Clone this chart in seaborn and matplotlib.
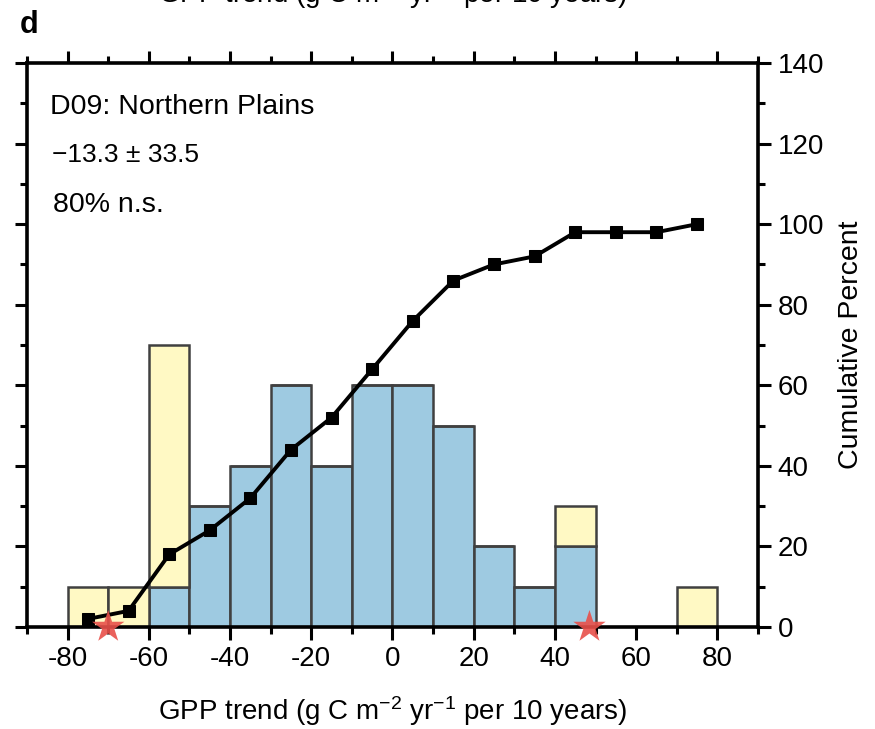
import numpy as np
import pandas as pd
import matplotlib
matplotlib.use("Agg")
import matplotlib.pyplot as plt
from matplotlib.ticker import MultipleLocator
import seaborn as sns

# ---- data ----
bin_centers = [-75, -65, -55, -45, -35, -25, -15, -5, 5, 15, 25, 35, 45, 55, 65, 75]
ns_values   = [0, 0, 10, 30, 40, 60, 40, 60, 60, 50, 20, 10, 20, 0, 0, 0]
sig_values  = [10, 10, 60, 0, 0, 0, 0, 0, 0, 0, 0, 0, 10, 0, 0, 10]
cum_percent = [2, 4, 18, 24, 32, 44, 52, 64, 76, 86, 90, 92, 98, 98, 98, 100]
star_x      = [-70, 48.5]
x_ticks     = [-80, -60, -40, -20, 0, 20, 40, 60, 80]
y_ticks     = [0, 20, 40, 60, 80, 100, 120, 140]

sns.set_theme(style="ticks")
plt.rcParams['font.family'] = ['Liberation Sans', 'DejaVu Sans']
plt.rcParams.update({"text.color": "black", "axes.labelcolor": "black",
                     "xtick.color": "black", "ytick.color": "black",
                     "xtick.labelcolor": "black", "ytick.labelcolor": "black",
                     "mathtext.fontset": "custom", "mathtext.rm": "Liberation Sans",
                     "mathtext.default": "regular"})

fig = plt.figure(figsize=(8.75, 7.29), dpi=100)
ax = fig.add_axes([27/875, 1-627/729, (758-27)/875, (627-63)/729])

df = pd.DataFrame({
    "x": bin_centers * 2,
    "w": ns_values + sig_values,
    "grp": ["n.s."] * len(bin_centers) + ["sig"] * len(bin_centers),
})
sns.histplot(data=df, x="x", weights="w", hue="grp", hue_order=["sig", "n.s."],
             binwidth=10, binrange=(-80, 80), multiple="stack",
             palette={"n.s.": "#9ECAE1", "sig": "#FFF9C4"},
             edgecolor="#404040", linewidth=1.8, alpha=1, legend=False, ax=ax)

sns.lineplot(x=bin_centers, y=cum_percent, color="black", linewidth=2.8,
             marker="s", markersize=8, markeredgecolor="black", ax=ax, zorder=5)

sns.scatterplot(x=star_x, y=[0, 0], marker="*", s=600, color="#E8504A",
                edgecolor="none", alpha=0.9, ax=ax, zorder=6, clip_on=False)

ax.set_xlim(-90, 90)
ax.set_ylim(0, 140)
ax.set_xticks(x_ticks)
ax.set_xticklabels([str(v) for v in x_ticks])
ax.set_yticks(y_ticks)
ax.xaxis.set_minor_locator(MultipleLocator(10))
ax.yaxis.set_minor_locator(MultipleLocator(10))

for s in ax.spines.values():
    s.set_linewidth(2.6)
    s.set_color("black")

ax.tick_params(which="both", direction="out", top=True, bottom=True, left=True, right=True,
               labelleft=False, labelright=True, labeltop=False, labelbottom=True,
               width=2.2, color="black", labelsize=20)
ax.tick_params(which="major", length=9, pad=5)
ax.tick_params(which="minor", length=5)

xlabel_txt = "GPP trend (g C m$^{\\mathrm{-2}}$ yr$^{\\mathrm{-1}}$ per 10 years)"
ax.yaxis.set_label_position("right")
ax.set_ylabel("Cumulative Percent", fontsize=20.5, labelpad=10)
ax.set_xlabel(xlabel_txt, fontsize=20, labelpad=16)

ax.text(50/875, 1-107/729, "D09: Northern Plains", transform=fig.transFigure,
        fontsize=20.5, va="center", ha="left")
ax.text(52/875, 1-155/729, "\u221213.3 \u00b1 33.5", transform=fig.transFigure,
        fontsize=19, va="center", ha="left")
ax.text(53/875, 1-205/729, "80% n.s.", transform=fig.transFigure,
        fontsize=20.5, va="center", ha="left")

fig.text(20/875, 1-25/729, "d", fontsize=22, fontweight="bold", va="center", ha="left")
fig.text(393/875, 1-3/729, xlabel_txt, fontsize=20, va="baseline", ha="center")

fig.savefig("out.png", dpi=100)
